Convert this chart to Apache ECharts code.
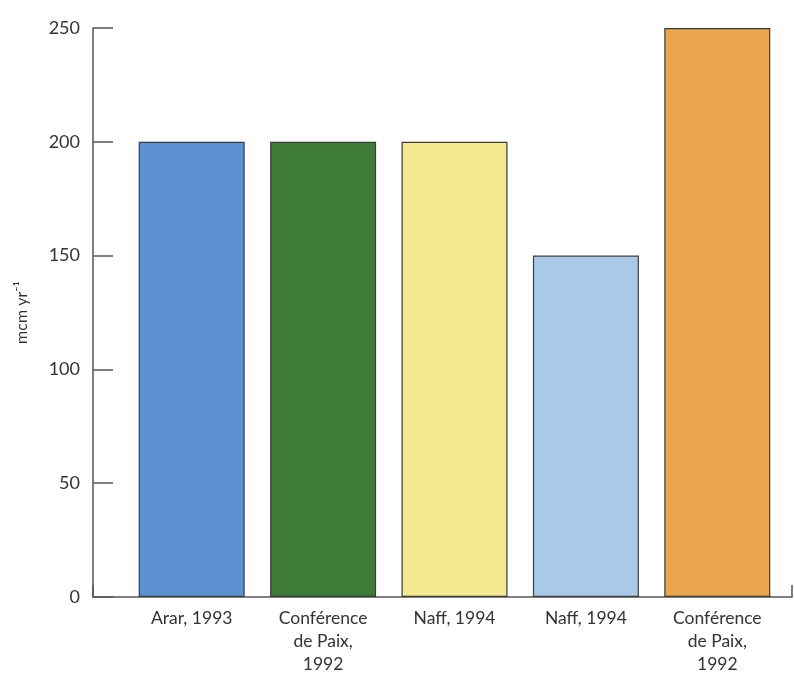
<!DOCTYPE html>
<html>
<head>
<meta charset="utf-8">
<script src="https://cdn.jsdelivr.net/npm/echarts@6/dist/echarts.min.js"></script>
<style>
  html, body { margin: 0; padding: 0; background: #fff; }
  #chart { width: 794px; height: 676px; }
</style>
</head>
<body>
<div id="chart"></div>
<script>
// data
var categories = ['Arar, 1993', 'Conférence\nde Paix,\n1992', 'Naff, 1994', 'Naff, 1994', 'Conférence\nde Paix,\n1992'];
var values = [200, 200, 200, 150, 250];
var barColors = ['#5b90d2', '#3e7b37', '#f3ea90', '#a9c9e9', '#eaa64e'];
var yTicks = [0, 50, 100, 150, 200, 250];

var chart = echarts.init(document.getElementById('chart'));

var font = 'Lato, "Open Sans", sans-serif';
var textColor = '#333';

var option = {
    backgroundColor: '#fff',
    grid: [
        // frame grid: y axis and full x axis line
        {left: 93, right: 2, top: 28, bottom: 79, containLabel: false},
        // bar grid
        {left: 126, width: 657, top: 28, bottom: 79, containLabel: false}
    ],
    xAxis: [
        {
            gridIndex: 0,
            type: 'value',
            min: 0,
            max: 1,
            interval: 1,
            axisLine: {lineStyle: {color: '#555', width: 1.5}},
            axisTick: {show: true, inside: true, length: 12, lineStyle: {color: '#555', width: 1.5}},
            axisLabel: {show: false},
            splitLine: {show: false}
        },
        {
            gridIndex: 1,
            type: 'category',
            data: categories,
            axisLine: {show: false},
            axisTick: {show: false},
            axisLabel: {
                color: textColor,
                fontFamily: font,
                fontSize: 17.5,
                lineHeight: 23,
                margin: 10,
                interval: 0
            }
        }
    ],
    yAxis: [
        {
            gridIndex: 0,
            type: 'value',
            min: yTicks[0],
            max: yTicks[yTicks.length - 1],
            interval: 50,
            name: 'mcm yr⁻¹',
            nameLocation: 'middle',
            nameGap: 63,
            nameTextStyle: {color: textColor, fontFamily: font, fontSize: 16},
            axisLine: {show: true, lineStyle: {color: '#555', width: 1.5}},
            axisTick: {show: true, inside: true, length: 20, lineStyle: {color: '#555', width: 1.5}},
            axisLabel: {color: textColor, fontFamily: font, fontSize: 18, margin: 13},
            splitLine: {show: false}
        },
        {
            gridIndex: 1,
            type: 'value',
            min: yTicks[0],
            max: yTicks[yTicks.length - 1],
            interval: 50,
            show: false
        }
    ],
    series: [{
        type: 'bar',
        xAxisIndex: 1,
        yAxisIndex: 1,
        barWidth: 106,
        data: values.map(function(v, i){
            return {
                value: v,
                itemStyle: {color: barColors[i], borderColor: '#3b3b3b', borderWidth: 1.2}
            };
        })
    }]
};

chart.setOption(option);
</script>
</body>
</html>
